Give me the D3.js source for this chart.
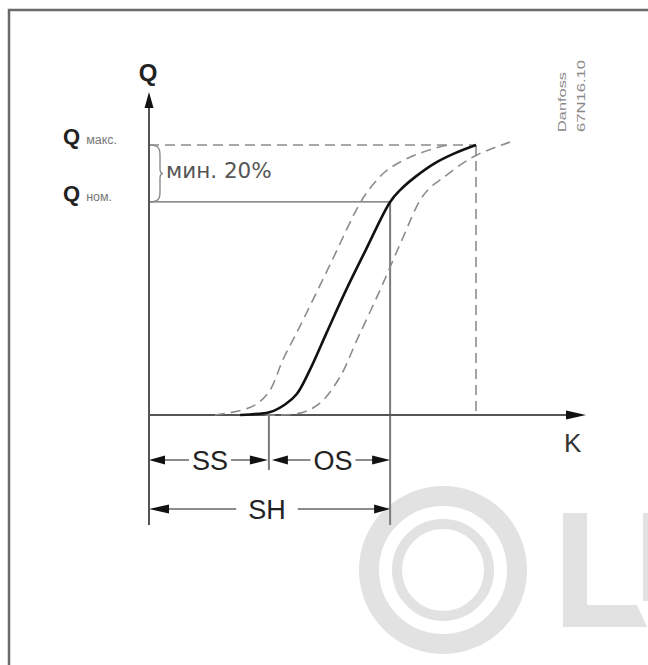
<!DOCTYPE html>
<html>
<head>
<meta charset="utf-8">
<script src="https://cdn.jsdelivr.net/npm/d3@7/dist/d3.min.js"></script>
<style>
  html, body { margin: 0; padding: 0; background: #fff; }
  svg { display: block; }
</style>
</head>
<body>
<svg id="chart" width="648" height="665"></svg>
<script>
// ---- data (chart units: K along x 0..100, Q along y, Qmax = 100) ----
const solidCurve = [
  [20.9, 0], [23.2, 0.2], [27.8, 1.1], [31.2, 3.9], [33.9, 7.8], [36.9, 16.7],
  [40.8, 30.7], [45.0, 45.6], [49.5, 60.4], [55.3, 78.9], [57.6, 83.3],
  [61.0, 88.1], [65.6, 93.3], [70.2, 97.0], [75.0, 100]
];
const leftDashed = [
  [15.1, 0], [21.6, 1.9], [25.0, 4.4], [27.8, 9.3], [30.7, 20.4], [34.2, 31.5],
  [41.5, 55.6], [48.4, 78.5], [51.1, 84.8], [54.1, 90.0], [57.6, 93.7],
  [62.2, 97.0], [67.4, 99.6], [69.0, 100]
];
const rightDashed = [
  [26.6, 0], [34.6, 0.7], [39.2, 4.4], [43.8, 14.1], [47.7, 27.8], [53.0, 46.3],
  [58.0, 64.8], [62.2, 79.6], [64.6, 84.4], [67.4, 87.8], [71.2, 92.4],
  [75.2, 96.3], [82.8, 101.1]
];
const qLevels = [100, 78.9];            // Q макс., Q ном.
const qLabelSubs = ["макс.", "ном."];
const kMarks = [0, 27.5, 55.3];          // start, end of SS, end of SH (OS)
const kMax = 75;                         // K at Q макс.
const spanLabels = ["SS", "OS", "SH"];
const axisLabels = ["Q", "K"];
const noteLabel = "мин. 20%";
const stampLines = ["Danfoss", "67N16.10"];

// ---- scales ----
const x = d3.scaleLinear().domain([0, 100]).range([149, 585]);
const y = d3.scaleLinear().domain([0, 100]).range([415, 145]);

const svg = d3.select("#chart");

// ---- watermark (behind) ----
const wm = svg.append("g").attr("fill", "none").attr("stroke", "#e2e2e2");
wm.append("circle").attr("cx", 443).attr("cy", 570).attr("r", 74).attr("stroke-width", 20);
wm.append("circle").attr("cx", 443).attr("cy", 570).attr("r", 46).attr("stroke-width", 10);
svg.append("path")
  .attr("d", "M563,513 L587,513 L587,605 L637,605 L647,627 L563,627 Z")
  .attr("fill", "#e2e2e2");
svg.append("rect").attr("x", 643).attr("y", 513).attr("width", 6).attr("height", 88).attr("fill", "#e2e2e2");

// ---- frame ----
svg.append("rect")
  .attr("x", 9).attr("y", 10).attr("width", 700).attr("height", 700)
  .attr("fill", "none").attr("stroke", "#6a6a6a").attr("stroke-width", 2.5);

const arrow = (tipX, tipY, dir, len = 16, hw = 4.5) => {
  let pts;
  if (dir === "up") pts = [[tipX, tipY], [tipX - hw, tipY + len], [tipX + hw, tipY + len]];
  else if (dir === "right") pts = [[tipX, tipY], [tipX - len, tipY - hw], [tipX - len, tipY + hw]];
  else pts = [[tipX, tipY], [tipX + len, tipY - hw], [tipX + len, tipY + hw]];
  svg.append("path").attr("d", "M" + pts.join("L") + "Z").attr("fill", "#111");
};

// ---- reference lines ----
const dashStyle = s => s.attr("fill", "none").attr("stroke", "#8c8c8c")
  .attr("stroke-width", 1.6).attr("stroke-dasharray", "10,6");

svg.append("line").attr("x1", x(0)).attr("x2", x(kMax)).attr("y1", y(qLevels[0])).attr("y2", y(qLevels[0]))
  .call(dashStyle);
svg.append("line").attr("x1", x(kMax)).attr("x2", x(kMax)).attr("y1", y(qLevels[0])).attr("y2", y(0))
  .call(dashStyle);
svg.append("line").attr("x1", x(0)).attr("x2", x(kMarks[2])).attr("y1", y(qLevels[1])).attr("y2", y(qLevels[1]))
  .attr("stroke", "#666").attr("stroke-width", 1.3);

// extension lines
const ext = (xv, y1, y2) => svg.append("line").attr("x1", x(xv)).attr("x2", x(xv))
  .attr("y1", y1).attr("y2", y2).attr("stroke", "#7a7a7a").attr("stroke-width", 2);
ext(kMarks[1], y(0), 470);
ext(kMarks[2], y(qLevels[1]), 525);

// ---- axes ----
svg.append("line").attr("x1", x(0)).attr("x2", x(0)).attr("y1", 525).attr("y2", 104)
  .attr("stroke", "#555").attr("stroke-width", 2);
arrow(x(0), 92, "up");
svg.append("line").attr("x1", x(0) - 1).attr("x2", 572).attr("y1", y(0)).attr("y2", y(0))
  .attr("stroke", "#555").attr("stroke-width", 2);
arrow(586, y(0), "right", 20, 4.5);

// ---- curves ----
const line = d3.line().x(d => x(d[0])).y(d => y(d[1])).curve(d3.curveCatmullRom.alpha(0.5));
svg.append("path").datum(leftDashed).attr("d", line).call(dashStyle);
svg.append("path").datum(rightDashed).attr("d", line).call(dashStyle);
svg.append("path").datum(solidCurve).attr("d", line)
  .attr("fill", "none").attr("stroke", "#111").attr("stroke-width", 2.6);

// ---- brace ----
const yT = y(qLevels[0]), yB = y(qLevels[1]), yM = (yT + yB) / 2;
svg.append("path")
  .attr("d", `M150,${yT} C158,${yT} 160,${yT + 3} 160,${yT + 10} L160,${yM - 5} C160,${yM - 2} 161,${yM} 163,${yM} ` +
             `C161,${yM} 160,${yM + 2} 160,${yM + 5} L160,${yB - 10} C160,${yB - 3} 158,${yB} 150,${yB}`)
  .attr("fill", "none").attr("stroke", "#8a8a8a").attr("stroke-width", 1.4);

svg.append("text").attr("x", 166).attr("y", 178)
  .attr("font-family", "DejaVu Sans, sans-serif").attr("font-size", 21.5).attr("fill", "#555")
  .text(noteLabel);

// ---- Q labels ----
const font = "Liberation Sans, Arial, sans-serif";
svg.append("text").attr("x", x(0) - 1).attr("y", 81).attr("text-anchor", "middle")
  .attr("font-family", font).attr("font-weight", "bold").attr("font-size", 24).attr("fill", "#222")
  .text(axisLabels[0]);
qLevels.forEach((q, i) => {
  const t = svg.append("text").attr("x", 63).attr("y", y(q) - 1)
    .attr("font-family", font).attr("fill", "#222");
  t.append("tspan").attr("font-weight", "bold").attr("font-size", 22).text(axisLabels[0]);
  t.append("tspan").attr("dx", 6).attr("font-size", 12.5).attr("fill", "#777").text(qLabelSubs[i]);
});
svg.append("text").attr("x", 564).attr("y", 452)
  .attr("font-family", font).attr("font-size", 26).attr("fill", "#333")
  .text(axisLabels[1]);

// ---- dimension lines ----
const dims = [
  { a: kMarks[0], b: kMarks[1], yy: 460, label: spanLabels[0], tx: 210 },
  { a: kMarks[1], b: kMarks[2], yy: 460, label: spanLabels[1], tx: 333 },
  { a: kMarks[0], b: kMarks[2], yy: 509, label: spanLabels[2], tx: 267 }
];
dims.forEach((d, i) => {
  const xa = x(d.a) + (i === 1 ? 3 : 0), xb = x(d.b) - (i === 0 ? 1 : 0);
  const t = svg.append("text").attr("x", d.tx).attr("y", d.yy + 10).attr("text-anchor", "middle")
    .attr("font-family", font).attr("font-size", 27).attr("fill", "#222").text(d.label);
  const w = t.node().getComputedTextLength();
  const pad = i === 2 ? 12 : 3;
  svg.append("line").attr("x1", xa + 10).attr("x2", d.tx - w / 2 - pad).attr("y1", d.yy).attr("y2", d.yy)
    .attr("stroke", "#666").attr("stroke-width", 1.5);
  svg.append("line").attr("x1", d.tx + w / 2 + pad).attr("x2", xb - 10).attr("y1", d.yy).attr("y2", d.yy)
    .attr("stroke", "#666").attr("stroke-width", 1.5);
  arrow(xa, d.yy, "left", i === 2 ? 20 : 16, 4.5);
  arrow(xb, d.yy, "right", i === 2 ? 16 : 18, 4.5);
});

// ---- stamp ----
stampLines.forEach((s, i) => {
  svg.append("text").attr("transform", `translate(${566 + i * 19},132) rotate(-90)`)
    .attr("font-family", font).attr("font-size", 10.5).attr("fill", "#888")
    .attr("textLength", i === 0 ? 60 : 72).attr("lengthAdjust", "spacingAndGlyphs")
    .text(s);
});
</script>
</body>
</html>
